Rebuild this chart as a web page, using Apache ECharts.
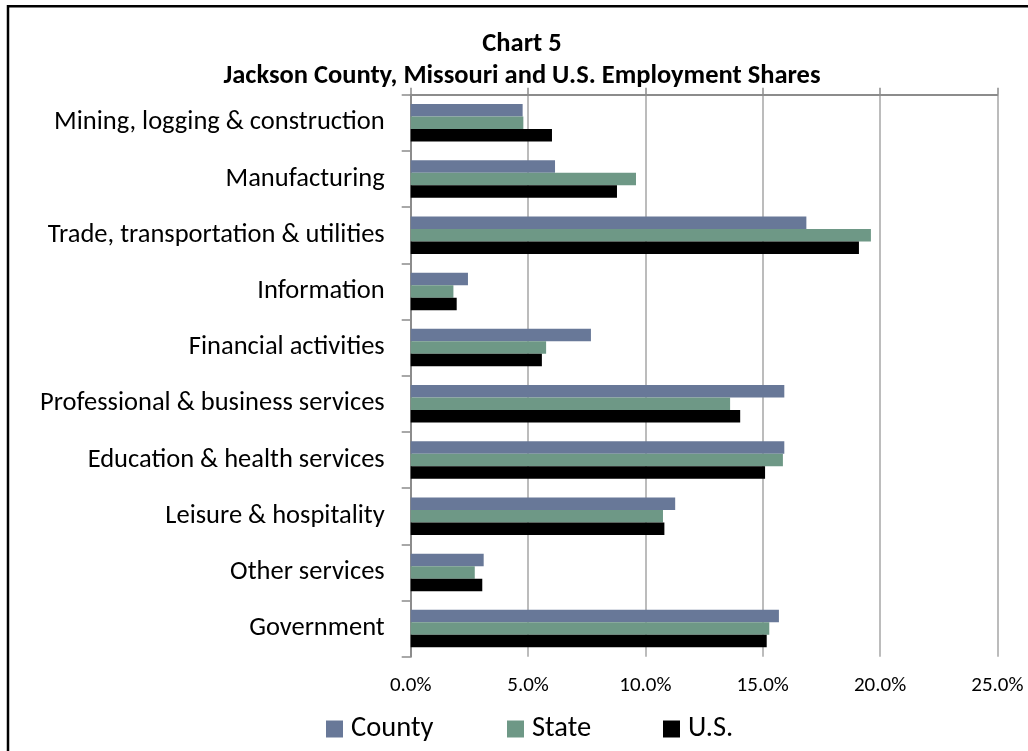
<!DOCTYPE html>
<html>
<head>
<meta charset="utf-8">
<script src="https://cdn.jsdelivr.net/npm/echarts@6/dist/echarts.min.js"></script>
<style>
  html, body { margin: 0; padding: 0; background: #fff; }
  #chart { width: 1028px; height: 751px; }
</style>
</head>
<body>
<div id="chart"></div>
<script>
// Employment shares by industry supersector (percent of total employment)
const categories = [
  'Mining, logging & construction',
  'Manufacturing',
  'Trade, transportation & utilities',
  'Information',
  'Financial activities',
  'Professional & business services',
  'Education & health services',
  'Leisure & hospitality',
  'Other services',
  'Government'
];
const countyShares = [4.77, 6.15, 16.86, 2.44, 7.68, 15.92, 15.92, 11.27, 3.11, 15.69];
const stateShares  = [4.80, 9.60, 19.61, 1.82, 5.77, 13.61, 15.86, 10.75, 2.73, 15.28];
const usShares     = [6.02, 8.79, 19.10, 1.96, 5.59, 14.04, 15.10, 10.81, 3.05, 15.17];
const seriesNames = ['County', 'State', 'U.S.'];

const FONT = 'Carlito, Lato, "Open Sans", sans-serif';
const AXIS_GRAY = '#8c8c8c';
const GRID_GRAY = '#a6a6a6';
const colors = ['#687898', '#6e9886', '#000000'];

const chart = echarts.init(document.getElementById('chart'), null, { renderer: 'canvas' });

const valueAxisBase = { type: 'value', min: 0, max: 25, interval: 5 };

function legendFor(name, left) {
  return {
    data: [name],
    left: left,
    top: 708,
    padding: 5,
    itemWidth: 17,
    itemHeight: 17,
    icon: 'rect',
    textStyle: { fontFamily: FONT, fontSize: 28.5, color: '#000', lineHeight: 32, padding: [0, 0, 0, 3] }
  };
}

chart.setOption({
  animation: false,
  color: colors,
  title: {
    text: 'Chart 5\nJackson County, Missouri and U.S. Employment Shares',
    left: 517,
    top: 23,
    textAlign: 'center',
    textStyle: { fontFamily: FONT, fontSize: 26.5, fontWeight: 'bold', color: '#000', lineHeight: 32 }
  },
  legend: [
    legendFor('County', 321),
    legendFor('State', 502),
    legendFor('U.S.', 658)
  ],
  grid: { left: 410.7, right: 30.6, top: 94.7, height: 562, containLabel: false },
  xAxis: [
    Object.assign({}, valueAxisBase, {
      position: 'top',
      axisLine: { show: true, lineStyle: { color: AXIS_GRAY, width: 2 } },
      axisTick: { show: true, length: 7, lineStyle: { color: AXIS_GRAY, width: 1.5 } },
      axisLabel: { show: false },
      splitLine: { show: true, lineStyle: { color: GRID_GRAY, width: 1.5 } }
    }),
    Object.assign({}, valueAxisBase, {
      position: 'bottom',
      axisLine: { show: false },
      axisTick: { show: false },
      splitLine: { show: false },
      axisLabel: {
        margin: 19,
        fontFamily: FONT,
        fontSize: 21,
        color: '#000',
        formatter: v => v.toFixed(1) + '%'
      }
    })
  ],
  yAxis: {
    type: 'category',
    data: categories,
    inverse: true,
    axisLine: { show: true, lineStyle: { color: AXIS_GRAY, width: 2 } },
    axisTick: { show: true, length: 9, lineStyle: { color: AXIS_GRAY, width: 1.5 } },
    axisLabel: { margin: 26, fontFamily: FONT, fontSize: 26.5, color: '#000', padding: [6, 0, 0, 0] },
    splitLine: { show: false }
  },
  series: [
    { name: seriesNames[0], type: 'bar', xAxisIndex: 0, data: countyShares, barWidth: 12.5, barGap: '0%' },
    { name: seriesNames[1], type: 'bar', xAxisIndex: 0, data: stateShares, barWidth: 12.5, barGap: '0%' },
    { name: seriesNames[2], type: 'bar', xAxisIndex: 0, data: usShares, barWidth: 12.5, barGap: '0%' }
  ],
  graphic: [
    {
      type: 'rect',
      shape: { x: 8, y: 6.3, width: 1100, height: 900 },
      style: { fill: 'none', stroke: '#000', lineWidth: 2.5 },
      silent: true,
      z: 100
    }
  ]
});
</script>
</body>
</html>
